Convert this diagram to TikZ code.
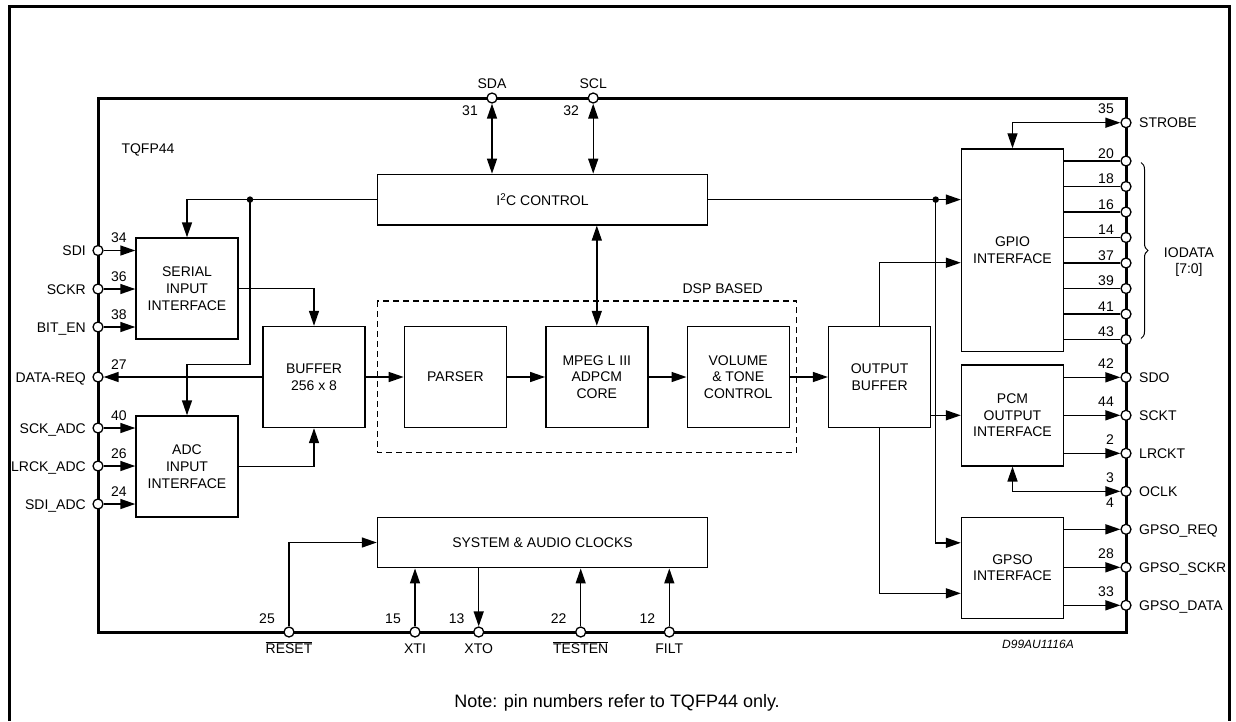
\documentclass[tikz,border=0pt]{standalone}
\usepackage{fontspec}
\setmainfont{Liberation Sans}
\usetikzlibrary{arrows.meta, positioning, calc, decorations.pathreplacing}
\newcommand{\bartext}[1]{$\overline{\mbox{#1}}$}

\begin{document}
\begin{tikzpicture}[x=1pt, y=-1pt, font=\fontsize{14}{16.7}\selectfont,
    block/.style={draw, line width=1.4pt, minimum width=102pt, minimum height=101pt, align=center, inner sep=0pt},
    wide/.style={draw, line width=1.4pt, minimum width=330pt, minimum height=50.5pt, inner sep=0pt},
    pad/.style={circle, draw, fill=white, line width=1.3pt, minimum size=10pt, inner sep=0pt},
    wire/.style={line width=1.4pt},
    arr/.style={wire, -{Triangle[length=15pt, width=10pt]}},
    darr/.style={wire, {Triangle[length=15pt, width=10pt]}-{Triangle[length=15pt, width=10pt]}},
    dot/.style={circle, fill, minimum size=6.5pt, inner sep=0pt},
    lbl/.style={inner sep=0pt}]

    \useasboundingbox (0,0) rectangle (1236,721);
    \draw[line width=3pt] (9.5,721) -- (9.5,6) -- (1229.5,6) -- (1229.5,721);
    \draw[line width=3pt] (98,98) rectangle (1126,632);

    \node[block] (serial) at (187,288.5) {SERIAL\\INPUT\\INTERFACE};
    \node[block] (adc) at (187,466.5) {ADC\\INPUT\\INTERFACE};
    \node[block] (buffer) at (314,377) {BUFFER\\256 x 8};
    \node[block, right=38pt of buffer] (parser) {PARSER};
    \node[block, right=38pt of parser] (mpeg) {MPEG L III\\ADPCM\\CORE};
    \node[block, right=38pt of mpeg] (volume) {VOLUME\\\& TONE\\CONTROL};
    \node[block, right=38pt of volume] (outbuf) {OUTPUT\\BUFFER};
    \node[block, minimum height=202.7pt] (gpio) at (1012.5,250.3) {GPIO\\INTERFACE};
    \node[block] (pcm) at (1012.5,415.3) {PCM\\OUTPUT\\INTERFACE};
    \node[block] (gpso) at (1012.5,567.8) {GPSO\\INTERFACE};
    \node[wide] (i2c) at (542.5,199.6) {I\textsuperscript{2}C CONTROL};
    \node[wide] (clocks) at (542.5,542.5) {SYSTEM \& AUDIO CLOCKS};

    \draw[wire, dash pattern=on 6pt off 4pt] (377.3,301) rectangle (796.7,452.3);
    \node[lbl, anchor=base] (dsp) at (722.7,293) {DSP BASED};
    \node[lbl, anchor=base] (tqfp) at (148,153) {TQFP44};

    % pins
    \foreach \name/\y/\num/\lab in {sdi/250.5/34/SDI, sckr/289/36/SCKR, biten/327/38/BIT\_EN,
        datareq/377/27/DATA-REQ, sckadc/428/40/SCK\_ADC, lrckadc/466/26/LRCK\_ADC, sdiadc/504/24/SDI\_ADC} {
        \node[pad] (\name) at (98,\y) {};
        \node[lbl, anchor=base east] (\name-l) at (86,\y+5) {\lab};
        \node[lbl, anchor=base west] (\name-n) at (111,\y-8) {\num};
    }
    \foreach \name/\y/\num/\lab in {strobe/122.7/35/STROBE, sdo/377.3/42/SDO, sckt/415.3/44/SCKT,
        lrckt/453.3/2/LRCKT, oclk/491.3/3/OCLK, gpsoreq/529.3//GPSO\_REQ,
        gpsosckr/567.3/28/GPSO\_SCKR, gpsodata/605.3/33/GPSO\_DATA} {
        \node[pad] (\name) at (1126,\y) {};
        \node[lbl, anchor=base west] (\name-l) at (1139,\y+5) {\lab};
        \node[lbl, anchor=base east] (\name-n) at (1114,\y-9) {\num};
    }
    \node[lbl, anchor=base east] (oclk-m) at (1114,507.5) {4};
    \foreach \name/\y/\num in {io0/161/20, io1/186.5/18, io2/212/16, io3/237.5/14,
        io4/263/37, io5/288.5/39, io6/314/41, io7/339.5/43} {
        \node[pad] (\name) at (1126,\y) {};
        \node[lbl, anchor=base east] (\name-n) at (1114,\y-2.7) {\num};
        \draw[wire] (\name -| gpio.east) -- (\name);
    }
    \foreach \name/\x/\num/\lab in {sda/492/31/SDA, scl/593.2/32/SCL} {
        \node[pad] (\name) at (\x,98) {};
        \node[lbl, anchor=base] (\name-l) at (\x,88) {\lab};
        \node[lbl, anchor=base east] (\name-n) at (\x-14,115) {\num};
    }
    \foreach \name/\x/\num/\lab in {reset/289/25/{\bartext{RESET}}, xti/415/15/XTI, xto/478.7/13/XTO,
        testen/580.7/22/{\bartext{TESTEN}}, filt/669.3/12/FILT} {
        \node[pad] (\name) at (\x,632) {};
        \node[lbl, anchor=base] (\name-l) at (\x,653) {\lab};
        \node[lbl, anchor=base east] (\name-n) at (\x-14,623) {\num};
    }

    % input side
    \foreach \p in {sdi, sckr, biten} \draw[arr] (\p) -- (\p -| serial.west);
    \foreach \p in {sckadc, lrckadc, sdiadc} \draw[arr] (\p) -- (\p -| adc.west);
    \node[dot] (j1) at (250,199.6) {};
    \coordinate (bend) at (250,364.3);
    \draw[arr] (i2c.west) -| (serial.north);
    \draw[arr] (j1.center) -- (bend) -| (adc.north);
    \draw[arr] (serial.east) -| (buffer.north);
    \draw[arr] (adc.east) -| (buffer.south);
    \draw[arr] (buffer.west) -- (datareq);

    \draw[arr] (buffer) -- (parser);
    \draw[arr] (parser) -- (mpeg);
    \draw[arr] (mpeg) -- (volume);
    \draw[arr] (volume) -- (outbuf);

    \draw[darr] (sda) -- (sda |- i2c.north);
    \draw[darr] (scl) -- (scl |- i2c.north);
    \draw[darr] (i2c.south -| mpeg.north) -- (mpeg.north);

    % output side
    \node[dot] (j2) at (935.7,199.6) {};
    \draw[arr] (i2c.east) -- (i2c.east -| gpio.west);
    \draw[arr] (j2.center) |- ([yshift=25pt]gpso.west);
    \draw[arr] (outbuf.north) |- ([yshift=-12.4pt]gpio.west);
    \draw[arr] (pcm.west -| outbuf.east) -- (pcm.west);
    \draw[arr] (outbuf.south) |- ([yshift=-25.5pt]gpso.west);
    \draw[darr] (gpio.north) |- (strobe);
    \foreach \p in {sdo, sckt, lrckt} \draw[arr] (\p -| pcm.east) -- (\p);
    \draw[darr] (pcm.south) |- (oclk);
    \foreach \p in {gpsoreq, gpsosckr, gpsodata} \draw[arr] (\p -| gpso.east) -- (\p);

    \draw[decorate, decoration={brace, amplitude=7pt}, line width=1pt] (1141,162.5) -- (1141,338.5);
    \node[align=center] (iodata) at (1189,262) {IODATA\\{[7:0]}};

    % clocks
    \draw[arr] (reset) |- (clocks.west);
    \draw[arr] (xti) -- (xti |- clocks.south);
    \draw[arr] (xto |- clocks.south) -- (xto);
    \draw[arr] (testen) -- (testen |- clocks.south);
    \draw[arr] (filt) -- (filt |- clocks.south);

    \node[lbl, anchor=base, font=\fontsize{12}{14}\selectfont\itshape] (code) at (1038,648) {D99AU1116A};
    \node[lbl, anchor=base, font=\fontsize{18}{20}\selectfont] (note) at (617,707) {Note: pin numbers refer to TQFP44 only.};
\end{tikzpicture}
\end{document}
